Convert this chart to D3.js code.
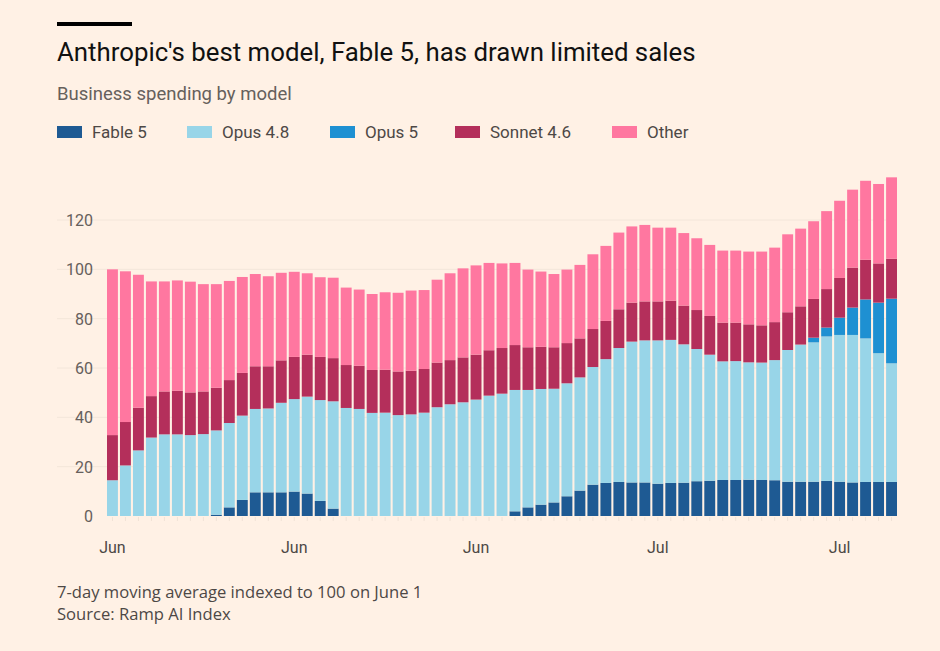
<!DOCTYPE html>
<html lang="en">
<head>
<meta charset="UTF-8">
<title>Business spending by model</title>
<style>
  body { margin: 0; background: #fff1e5; }
  svg { display: block; font-family: Roboto, "Noto Sans", sans-serif; }
</style>
</head>
<body>
<svg id="chart" width="940" height="651"></svg>
<script src="https://d3js.org/d3.v7.min.js"></script>
<script>
// values, one per bar (61 daily bars)
const fable5 = [0,0,0,0,0,0,0,0,0.5,3.5,6.5,9.6,9.6,9.6,9.9,9.1,6.1,3.0,
  0,0,0,0,0,0,0,0,0,0,0,0,0,
  1.9,3.5,4.6,5.5,8,10.3,12.7,13.4,13.8,13.6,13.6,13.1,13.4,13.5,14.1,14.3,14.6,14.6,14.7,14.6,14.5,13.9,13.9,13.9,14.2,13.9,13.6,13.8,13.8,13.8]
const opus48 = [14.5,20.5,26.6,31.8,33.1,33.1,32.8,33.2,34.2,34.2,34.2,33.8,34.0,36.3,37.5,39.3,40.9,43.5,
  43.8,43.4,41.8,41.9,40.9,41.2,41.9,44.1,45.3,46.1,47.2,48.8,49.6,
  49.2,47.6,46.9,46.1,45.8,45.9,47.7,50.2,54.3,57.1,57.6,58.1,58.0,56.1,53.6,51.1,48.1,48.2,47.6,47.6,48.7,53.4,55.6,56.5,58.6,59.5,59.8,58.2,52.2,48.1]
const opus5 = [0,0,0,0,0,0,0,0,0,0,0,0,0,0,0,0,0,0,0,0,0,0,0,0,0,0,0,0,0,0,0,
  0,0,0,0,0,0,0,0,0,0,0,0,0,0,0,0,0,0,0,0,0,0,0,1.9,3.6,7.0,11.1,15.8,20.5,26.2]
const sonnet46 = [18.3,17.6,17.3,16.8,17.4,17.7,17.3,17.3,17.3,17.4,17.3,17.3,17.1,17.2,17.1,17.0,17.5,17.5,
  17.4,17.5,17.4,17.4,17.7,17.7,17.7,18.1,17.9,18.2,18.2,18.4,18.5,
  18.2,17.3,17.1,16.8,16.3,15.8,15.4,15.5,15.7,15.8,15.8,15.8,15.9,15.7,15.8,15.7,15.7,15.6,15.4,15.1,15.4,15.3,15.5,15.7,15.6,16.1,16.2,16.1,15.9,16.2]
const other = [67.2,61.1,53.9,46.5,44.6,44.7,44.9,43.5,42,40.2,38.9,37.4,36.5,35.5,34.5,33,32.3,32.6,
  31.4,30.9,30.8,31.4,31.9,32.5,32,33.6,35.2,36.1,36.2,35.4,34.3,
  33.3,31.5,30.5,29.7,29.8,29.8,30.3,30.4,31.1,30.9,31,29.9,29.6,29.4,29.1,28.8,29.2,29.2,29.5,29.9,30.2,31.6,31.5,31.5,31.6,31.3,31.6,32,32.2,33]

const seriesNames = ['Fable 5', 'Opus 4.8', 'Opus 5', 'Sonnet 4.6', 'Other']
const seriesColors = ['#1e5a93', '#98d5e8', '#1e90d2', '#b42f5b', '#ff77a0']
const yTicks = [0, 20, 40, 60, 80, 100, 120]
const xTickBars = [0, 14, 28, 42, 56]
const xTickLabels = ['Jun', 'Jun', 'Jun', 'Jul', 'Jul']

const rows = fable5.map((d, i) => ({
  i, 'Fable 5': d, 'Opus 4.8': opus48[i], 'Opus 5': opus5[i], 'Sonnet 4.6': sonnet46[i], 'Other': other[i]
}))
const stacked = d3.stack().keys(seriesNames)(rows)

const svg = d3.select('#chart')
const m = { left: 107, right: 897, top: 150, bottom: 516 }

const x = d3.scaleBand().domain(d3.range(rows.length)).range([m.left, m.right]).paddingInner(0.16).paddingOuter(0)
const y = d3.scaleLinear().domain([0, 120]).range([m.bottom, 220])

// header
svg.append('rect').attr('x', 57).attr('y', 22).attr('width', 75).attr('height', 4).attr('fill', '#000')
svg.append('text').attr('x', 57).attr('y', 61).attr('font-size', 25.8).attr('fill', '#111')
  .text("Anthropic's best model, Fable 5, has drawn limited sales")
svg.append('text').attr('x', 57).attr('y', 100).attr('font-size', 18.5).attr('fill', '#66605c')
  .text('Business spending by model')

const legendX = [57, 187, 330, 455, 612]
const legend = svg.append('g').selectAll('g').data(seriesNames).join('g')
  .attr('transform', (d, i) => `translate(${legendX[i]},124)`)
legend.append('rect').attr('width', 25).attr('height', 12).attr('y', 2).attr('fill', (d, i) => seriesColors[i])
legend.append('text').attr('x', 35).attr('y', 14).attr('font-size', 17).attr('fill', '#4d4845').text(d => d)

// grid + y axis
svg.append('g').selectAll('line').data(yTicks.slice(1)).join('line')
  .attr('x1', 57).attr('x2', m.right).attr('y1', d => y(d)).attr('y2', d => y(d))
  .attr('stroke', '#f3e6da').attr('stroke-width', 1)
svg.append('g').selectAll('text').data(yTicks).join('text')
  .attr('x', 93).attr('y', d => y(d) + 6).attr('text-anchor', 'end')
  .attr('font-size', 16).attr('fill', '#66605c').text(d => d)

// bars
svg.append('g').selectAll('g').data(stacked).join('g')
  .attr('fill', (d, i) => seriesColors[i])
  .selectAll('rect').data(d => d).join('rect')
  .attr('x', d => x(d.data.i))
  .attr('width', x.bandwidth())
  .attr('y', d => y(d[1]))
  .attr('height', d => Math.max(0, y(d[0]) - y(d[1])))

// x ticks
svg.append('g').selectAll('line').data(d3.range(rows.length)).join('line')
  .attr('x1', d => x(d) + x.bandwidth() / 2).attr('x2', d => x(d) + x.bandwidth() / 2)
  .attr('y1', m.bottom + 1).attr('y2', m.bottom + 5).attr('stroke', '#f0e2d6')
svg.append('g').selectAll('text').data(xTickBars).join('text')
  .attr('x', d => x(d) + x.bandwidth() / 2).attr('y', 553).attr('text-anchor', 'middle')
  .attr('font-size', 16).attr('fill', '#4d4845').text((d, i) => xTickLabels[i])

// footer
svg.append('g').attr('font-family', '"Open Sans", sans-serif').attr('font-size', 16.6).attr('fill', '#4d4845')
  .selectAll('text').data(['7-day moving average indexed to 100 on June 1', 'Source: Ramp AI Index']).join('text')
  .attr('x', 57).attr('y', (d, i) => 598 + i * 22).text(d => d)
</script>
</body>
</html>
